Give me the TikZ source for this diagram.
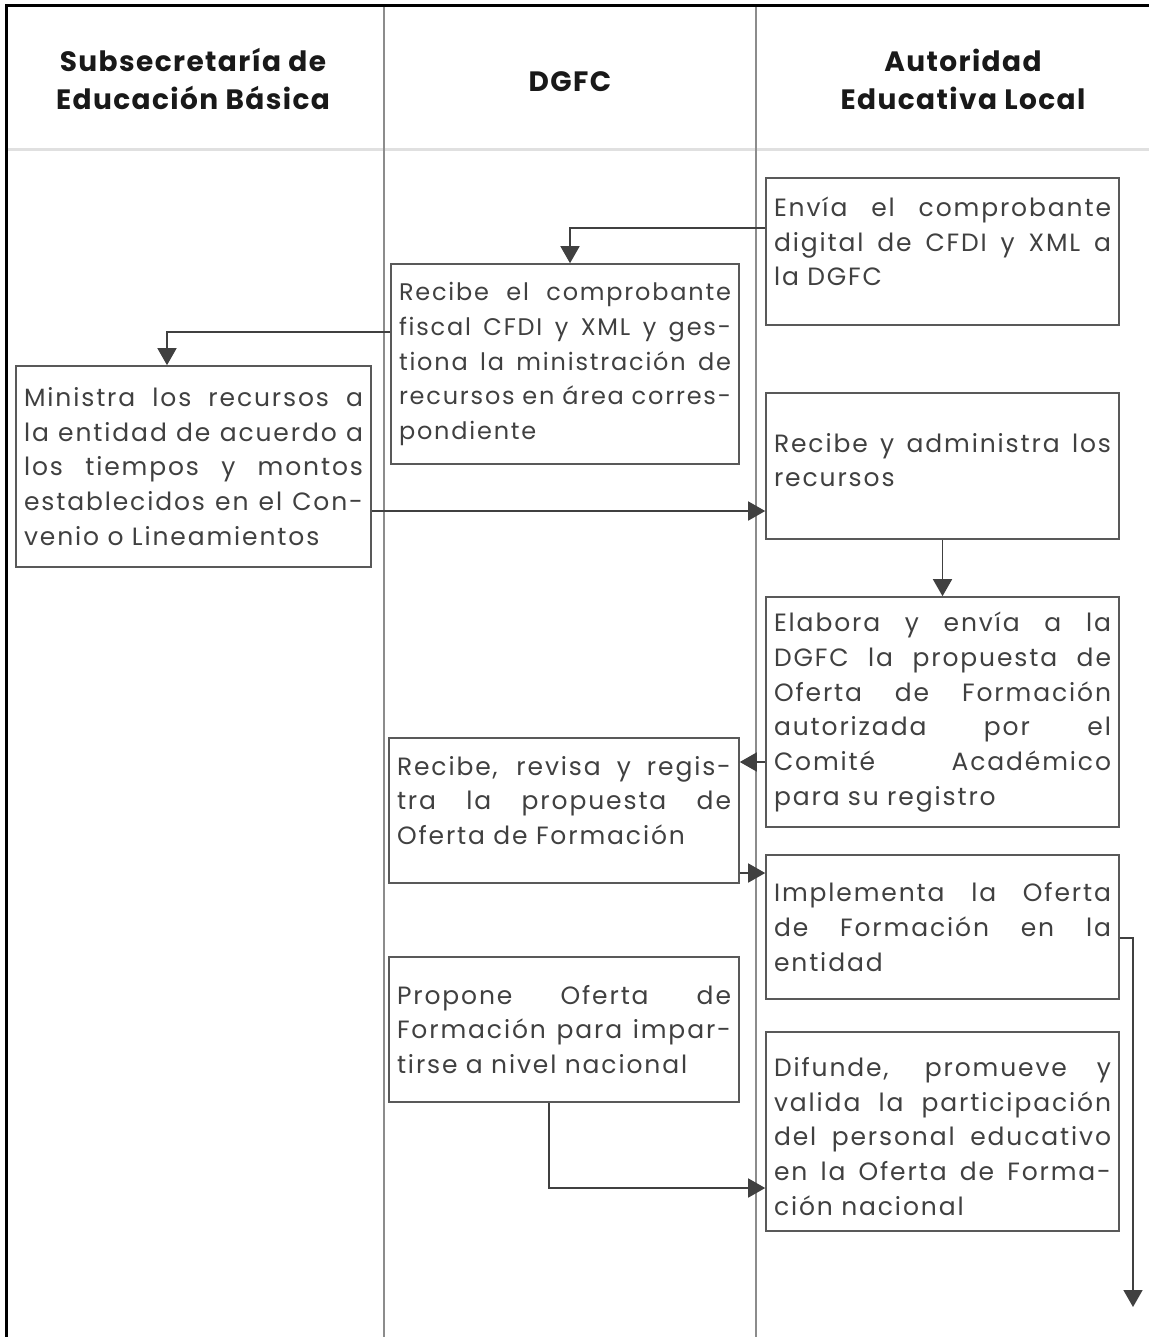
\documentclass[tikz,border=0pt]{standalone}
\usepackage{fontspec}
\setmainfont{Poppins}
\newfontfamily\boxfont{Poppins}[LetterSpace=7.5]
\newfontfamily\headfont{Poppins}[LetterSpace=5]
\usetikzlibrary{arrows.meta}

% one justified line inside a box
\newcommand{\jl}[1]{\makebox[\hsize][s]{\spaceskip=.2em plus 1fil\relax #1}\\}

\begin{document}
\begin{tikzpicture}[
    x = 1pt, y = -1pt,
    frame/.style = {draw=black, line width=3pt},
    lane/.style = {draw=black!45, line width=1.2pt},
    headsep/.style = {draw=black!12, line width=3pt},
    head/.style = {font=\headfont\fontsize{28pt}{38pt}\selectfont\bfseries, align=center, text=black!90},
    task/.style = {draw=black!65, line width=1.6pt, inner xsep=8pt, inner ysep=0pt,
        align=left, text=black!75, font=\boxfont\fontsize{25pt}{34.7pt}\selectfont},
    lift/.style = {execute at end node={\endgraf\vspace*{#1}}},
    flow/.style = {draw=black!75, line width=1.6pt, -{Triangle[width=19pt,length=17pt]}}]

\useasboundingbox (0,0) rectangle (1149,1337);

% lanes
\draw[headsep] (7,150) -- (1149,150);
\draw[lane] (384,6) -- (384,1337)
            (756,6) -- (756,1337);
\draw[frame] (6,1337) -- (6,6) -- (1149,6);

\node[head] (sub) at (193,79) {Subsecretaría de\\Educación Básica};
\node[head] (dgfc) at (570,82) {DGFC};
\node[head] (ael) at (963,79) {Autoridad\\Educativa Local};

% boxes
\node[task, lift=20pt, text width=337pt, minimum height=147pt] (envia) at (942.5,251.5)
    {\jl{Envía el comprobante}\jl{digital de CFDI y XML a}la DGFC};
\node[task, font=\boxfont\fontsize{24pt}{34.7pt}\selectfont, text width=332pt, minimum height=200pt] (recibecfdi) at (565,364)
    {\jl{Recibe el comprobante}\jl{fiscal CFDI y XML y ges-}\jl{tiona la ministración de}\jl{recursos en área corres-}pondiente};
\node[task, text width=339pt, minimum height=201pt] (ministra) at (193.5,466.5)
    {\jl{Ministra los recursos a}\jl{la entidad de acuerdo a}\jl{los tiempos y montos}\jl{establecidos en el Con-}venio o Lineamientos};
\node[task, lift=12pt, text width=337pt, minimum height=146pt] (recibeadm) at (942.5,466)
    {\jl{Recibe y administra los}recursos};
\node[task, text width=337pt, minimum height=230pt] (elabora) at (942.5,712)
    {\jl{Elabora y envía a la}\jl{DGFC la propuesta de}\jl{Oferta de Formación}\jl{autorizada por el}\jl{Comité Académico}para su registro};
\node[task, lift=20pt, text width=334pt, minimum height=145pt] (revisa) at (564,810.5)
    {\jl{Recibe, revisa y regis-}\jl{tra la propuesta de}Oferta de Formación};
\node[task, text width=337pt, minimum height=144pt] (implementa) at (942.5,927)
    {\jl{Implementa la Oferta}\jl{de Formación en la}entidad};
\node[task, text width=334pt, minimum height=145pt] (propone) at (564,1029.5)
    {\jl{Propone Oferta de}\jl{Formación para impar-}tirse a nivel nacional};
\node[task, lift=-10pt, text width=337pt, minimum height=199pt] (difunde) at (942.5,1131.5)
    {\jl{Difunde, promueve y}\jl{valida la participación}\jl{del personal educativo}\jl{en la Oferta de Forma-}ción nacional};

% connectors
\coordinate (c3) at ([yshift=-44.5pt]ministra.east);
\coordinate (c5) at ([yshift=-50pt]elabora.west);
\coordinate (c6) at ([yshift=-62.5pt]revisa.east);
\coordinate (c8) at ([xshift=-15pt]propone.south);
\coordinate (c9) at ([yshift=-56.5pt]difunde.west);
\coordinate (fin) at (1133,1307);

\draw[flow] ([yshift=23.5pt]envia.west) -| ([xshift=5pt]recibecfdi.north);
\draw[flow] ([yshift=32pt]recibecfdi.west) -| ([xshift=-26.5pt]ministra.north);
\draw[flow] (c3) -- (c3 -| recibeadm.west);
\draw[flow] (recibeadm.south) -- (elabora.north);
\draw[flow] (c5) -- (c5 -| revisa.east);
\draw[flow] (c6) -- (c6 -| implementa.west);
\draw[flow] ([yshift=-11pt]implementa.east) -| (fin);
\draw[flow] (c8) |- (c9);
\end{tikzpicture}
\end{document}
